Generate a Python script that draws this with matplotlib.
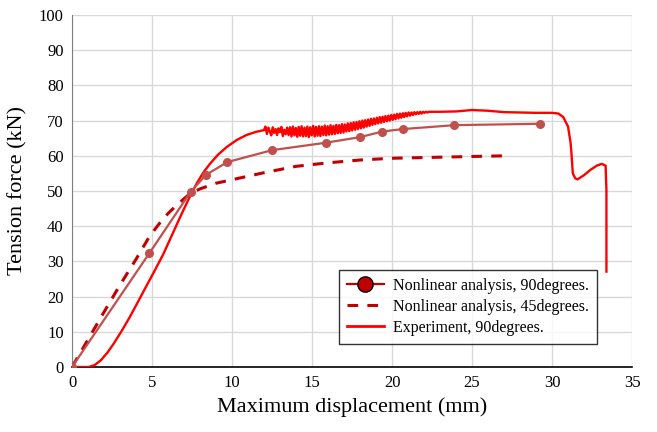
import numpy as np
import matplotlib
matplotlib.use("Agg")
import matplotlib.pyplot as plt
from matplotlib.lines import Line2D

# Nonlinear analysis, 90 degrees (markers)
nl90_x = [0, 4.83, 7.42, 8.38, 9.7, 12.5, 15.85, 18.0, 19.4, 20.7, 23.9, 29.25]
nl90_y = [0, 32.3, 49.8, 54.6, 58.2, 61.6, 63.7, 65.3, 66.9, 67.6, 68.7, 69.1]

# Nonlinear analysis, 45 degrees (dashed)
nl45_x = [0, 1, 2, 3, 4, 4.83, 5.5, 6, 6.5, 7, 7.4, 8, 9, 10, 11, 12, 14, 16, 18, 20, 22, 25, 27.2]
nl45_y = [0, 7.8, 15.6, 23.3, 30.6, 37.0, 41.0, 43.6, 45.8, 47.8, 49.3, 50.6, 52.2, 53.2, 54.2, 55.2, 57.0, 58.0, 58.8, 59.3, 59.5, 59.8, 60.0]

# Experiment, 90 degrees
exp_start_x = [0, 1.04, 1.4, 1.8, 2.2, 2.6, 3.1, 3.6, 4.17, 4.6, 5.1, 5.7, 6.25, 6.8, 7.3, 7.8, 8.2, 8.6, 9.1, 9.67, 10.3, 10.9, 11.5]
exp_start_y = [0, 0, 0.5, 1.9, 4.0, 6.6, 10.2, 14.1, 18.9, 22.6, 26.8, 32.0, 37.5, 43.0, 47.8, 52.2, 55.2, 57.6, 60.2, 62.5, 64.5, 65.9, 66.8]
exp_noise_y = [67.3, 68.3, 66.2, 68.0, 67.0, 65.8, 68.1, 66.5, 67.6, 65.9, 67.8, 66.7, 68.2, 65.6, 67.4, 66.1, 68.0, 65.9,
               68.1, 65.5, 68.3, 65.8, 67.9, 65.4, 68.2, 65.7, 68.4, 65.5, 68.0, 65.6, 68.3, 65.3, 68.1, 65.8, 68.5, 65.5,
               68.2, 65.7, 68.4, 65.6, 68.3, 65.9, 68.6, 65.8, 68.4, 66.0, 68.7, 66.1, 68.5, 66.2, 68.8, 66.4, 68.7, 66.5,
               69.0, 66.6, 68.9, 66.9, 69.2, 67.0, 69.3, 67.2, 69.5, 67.4, 69.6, 67.6, 69.8, 67.8, 70.0, 68.0, 70.1,
               68.3, 70.3, 68.5, 70.5, 68.8, 70.6, 69.0, 70.8, 69.2, 71.0, 69.4, 71.1, 69.6, 71.3, 69.8, 71.4, 70.0, 71.6,
               70.2, 71.7, 70.4, 71.9, 70.6, 72.0, 70.8, 72.1, 71.0, 72.2, 71.2, 72.3, 71.4, 72.3, 71.6, 72.4, 71.8, 72.4,
               71.9, 72.5, 72.0, 72.5, 72.2, 72.5, 72.3, 72.5]
exp_noise_x = list(np.linspace(12.0, 22.3, len(exp_noise_y)))
exp_end_x = [23, 24, 25, 26, 27, 28, 29, 30, 30.4, 30.7, 31.0, 31.15, 31.2, 31.3, 31.45, 31.6, 32.0, 32.4, 32.8, 33.1, 33.35, 33.4, 33.4]
exp_end_y = [72.5, 72.6, 73.0, 72.8, 72.4, 72.3, 72.2, 72.2, 72.0, 71.0, 68.3, 64.0, 61.6, 55.0, 53.6, 53.3, 54.5, 56.0, 57.2, 57.7, 57.2, 50.0, 27.1]
exp_x = exp_start_x + exp_noise_x + exp_end_x
exp_y = exp_start_y + exp_noise_y + exp_end_y

x_ticks = [0, 5, 10, 15, 20, 25, 30, 35]
y_ticks = [0, 10, 20, 30, 40, 50, 60, 70, 80, 90, 100]

plt.rcParams['font.family'] = ['Liberation Serif', 'DejaVu Serif']

fig = plt.figure(figsize=(6.57, 4.32), dpi=100)
ax = fig.add_axes([0.1096, 0.1505, 0.8524, 0.8148])

c90 = '#C0504D'
c45 = '#C00000'
cexp = '#FF0000'

ax.plot(exp_x, exp_y, color=cexp, lw=1.7, zorder=3)
ax.plot(nl45_x, nl45_y, color=c45, lw=2.2, ls=(0, (3.5, 3)), zorder=4)
ax.plot(nl90_x, nl90_y, color=c90, lw=1.6, marker='o', markersize=5.5, zorder=5)

ax.set_xlim(0, 35)
ax.set_ylim(0, 100)
ax.set_xticks(x_ticks)
ax.set_yticks(y_ticks)
ax.grid(True, color='#D9D9D9', lw=1)
ax.set_axisbelow(True)
ax.tick_params(length=0, labelsize=12, pad=6)
for s in ['top', 'right']:
    ax.spines[s].set_visible(False)
ax.spines['left'].set_color('#808080')
ax.spines['bottom'].set_color('black')
ax.spines['bottom'].set_linewidth(1.2)

ax.set_xlabel('Maximum displacement (mm)', fontsize=16, labelpad=4)
ax.set_ylabel('Tension force (kN)', fontsize=16, labelpad=8)

handles = [
    Line2D([], [], color=c45, lw=1.6, marker='o', markersize=11, markerfacecolor=c45, markeredgecolor='black'),
    Line2D([], [], color=c45, lw=2.2, ls=(0, (3.5, 3))),
    Line2D([], [], color=cexp, lw=2),
]
labels = ['Nonlinear analysis, 90degrees.', 'Nonlinear analysis, 45degrees.', 'Experiment, 90degrees.']
leg = ax.legend(handles, labels, loc='upper right', bbox_to_anchor=(0.9375, 0.2756),
                fontsize=11.5, frameon=True, fancybox=False, edgecolor='black',
                borderpad=0.5, labelspacing=0.3, handlelength=2.3, handletextpad=0.6,
                borderaxespad=0)
leg.get_frame().set_linewidth(1.0)

fig.savefig('out.png', dpi=100)
